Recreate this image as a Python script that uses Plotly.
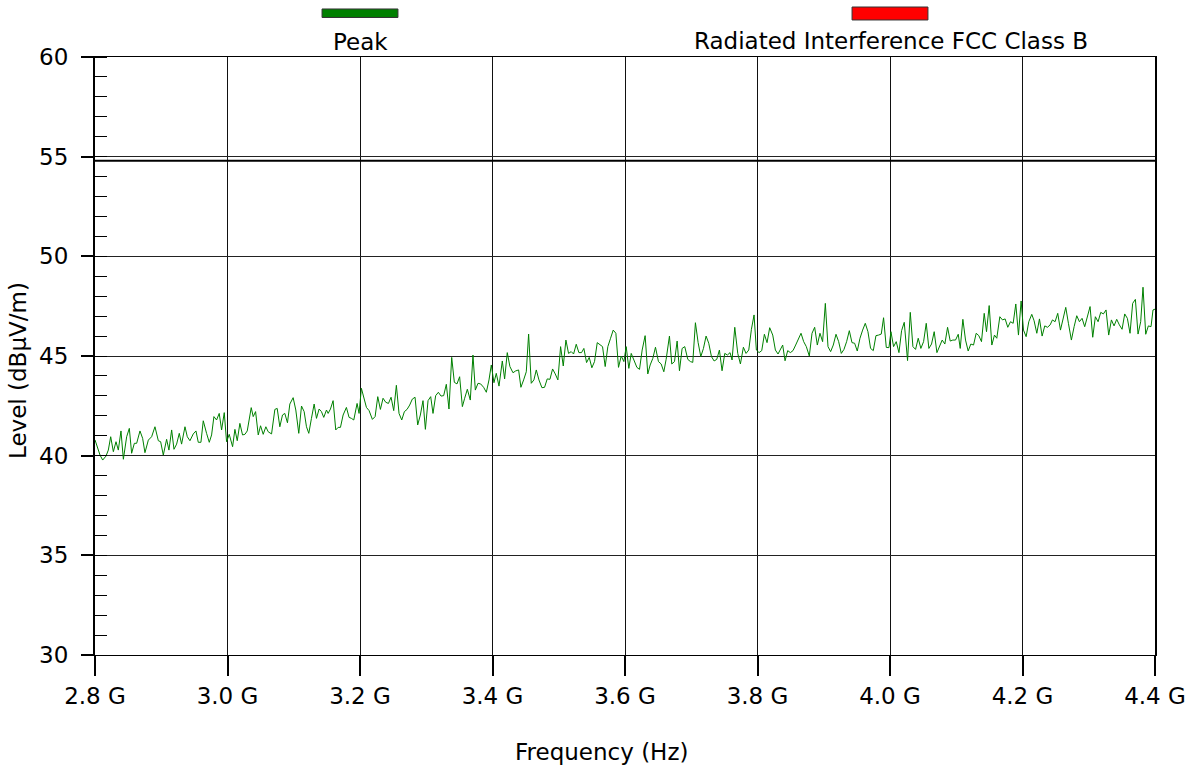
import plotly.graph_objects as go

# ---------------- data ----------------
# Peak trace: frequency in MHz and level in dBµV/m
freq_mhz = [
    # 2.80 - 3.08 GHz
    2800.0, 2807.6, 2811.6, 2816.6, 2820.1, 2823.7, 2827.7, 2831.7, 2835.2, 2839.2,
    2842.8, 2847.8, 2851.8, 2855.3, 2859.4, 2862.9, 2867.9, 2871.9, 2875.4, 2880.5,
    2885.5, 2890.5, 2895.6, 2899.1, 2903.1, 2908.1, 2911.6, 2915.7, 2919.2, 2923.2,
    2927.2, 2930.7, 2935.8, 2939.3, 2943.3, 2948.3, 2952.4, 2955.9, 2959.9, 2963.4,
    2968.4, 2972.5, 2976.0, 2979.5, 2983.5, 2987.5, 2991.1, 2995.1, 2998.6, 3002.6,
    3007.7, 3011.2, 3014.7, 3018.7, 3022.7, 3026.3, 3029.8, 3035.8, 3038.8, 3042.4,
    3046.4, 3049.9, 3053.9, 3057.9, 3061.4, 3066.5, 3071.5, 3075.0, 3079.0,
    # 3.08 - 3.35 GHz
    3083.0, 3086.5, 3090.5, 3094.1, 3099.1, 3103.1, 3107.6, 3111.7, 3115.7, 3119.2,
    3122.7, 3126.7, 3130.8, 3134.3, 3138.3, 3141.8, 3145.3, 3149.4, 3151.9, 3155.4,
    3159.4, 3163.4, 3167.0, 3170.5, 3174.5, 3179.5, 3183.5, 3187.1, 3190.6, 3195.6,
    3198.6, 3202.1, 3206.2, 3209.7, 3213.7, 3218.7, 3222.8, 3226.8, 3230.8, 3234.8,
    3238.8, 3242.9, 3246.9, 3250.9, 3254.9, 3258.9, 3263.0, 3267.0, 3271.0, 3275.0,
    3279.0, 3283.1, 3287.1, 3291.1, 3295.1, 3298.7, 3302.7, 3306.7, 3310.2, 3314.2,
    3318.3, 3322.3, 3326.3, 3330.3, 3334.3, 3338.4, 3342.4, 3346.4, 3350.4,
    # 3.35 - 3.61 GHz
    3354.5, 3358.0, 3362.0, 3366.5, 3370.5, 3374.1, 3378.1, 3382.1, 3386.6, 3390.7,
    3394.7, 3398.2, 3402.2, 3405.7, 3409.8, 3414.8, 3418.3, 3422.3, 3426.3, 3430.9,
    3434.9, 3439.4, 3442.9, 3447.0, 3451.0, 3454.5, 3458.5, 3462.5, 3466.1, 3470.1,
    3474.6, 3478.6, 3482.6, 3486.7, 3490.7, 3494.7, 3498.7, 3502.8, 3506.8, 3510.8,
    3514.8, 3518.8, 3522.4, 3526.4, 3530.4, 3534.4, 3537.9, 3542.0, 3546.0, 3550.0,
    3554.0, 3558.1, 3562.1, 3566.1, 3570.1, 3574.1, 3578.2, 3582.2, 3586.2, 3590.2,
    3594.3, 3598.3, 3601.8, 3605.8, 3609.4,
    # 3.61 - 3.88 GHz
    3617.9, 3621.9, 3625.9, 3630.4, 3634.4, 3638.0, 3642.0, 3646.0, 3650.5, 3654.6,
    3658.6, 3662.1, 3667.1, 3670.6, 3674.7, 3678.7, 3682.2, 3686.2, 3690.2, 3694.8,
    3698.8, 3702.3, 3706.3, 3710.4, 3714.4, 3718.4, 3722.4, 3726.4, 3730.5, 3734.5,
    3738.5, 3742.5, 3746.5, 3750.6, 3754.6, 3758.6, 3761.6, 3765.7, 3770.2, 3774.2,
    3778.7, 3782.7, 3786.8, 3790.8, 3794.8, 3798.3, 3802.4, 3806.4, 3810.4, 3814.4,
    3818.4, 3823.0, 3827.0, 3831.0, 3835.0, 3838.0, 3841.6, 3845.6, 3849.6, 3853.6,
    3857.6, 3861.7, 3865.7, 3869.7, 3873.7,
    # 3.88 - 4.14 GHz
    3878.2, 3882.3, 3886.3, 3890.3, 3894.3, 3898.3, 3902.4, 3906.4, 3910.4, 3914.4,
    3918.5, 3922.5, 3926.5, 3930.5, 3934.5, 3938.6, 3942.6, 3946.6, 3950.6, 3954.7,
    3958.7, 3962.7, 3966.7, 3970.7, 3974.8, 3978.8, 3982.8, 3986.8, 3990.3, 3994.4,
    3998.4, 4001.4, 4005.4, 4009.4, 4013.5, 4017.5, 4021.5, 4026.5, 4030.6, 4034.6,
    4038.6, 4042.6, 4046.6, 4050.7, 4054.7, 4058.7, 4062.7, 4066.7, 4070.8, 4074.8,
    4078.8, 4082.8, 4086.9, 4090.9, 4094.9, 4098.9, 4103.0, 4106.0, 4110.0, 4114.0,
    4118.0, 4122.0, 4126.1, 4130.1, 4134.1, 4138.1, 4142.2,
    # 4.14 - 4.40 GHz
    4145.7, 4149.7, 4153.7, 4157.7, 4161.2, 4165.8, 4169.8, 4173.8, 4177.8, 4181.9,
    4185.9, 4189.9, 4193.9, 4197.9, 4201.5, 4205.5, 4209.5, 4214.0, 4217.5, 4221.6,
    4225.6, 4229.6, 4233.6, 4237.7, 4241.7, 4245.2, 4249.2, 4253.2, 4257.3, 4261.3,
    4265.3, 4269.3, 4273.8, 4277.9, 4281.9, 4285.9, 4289.9, 4293.9, 4298.0, 4302.0,
    4306.0, 4310.0, 4314.1, 4318.1, 4322.1, 4326.1, 4330.1, 4334.2, 4338.2, 4342.2,
    4346.2, 4350.3, 4354.3, 4358.3, 4362.3, 4366.3, 4370.4, 4374.4, 4378.4, 4381.9,
    4386.0, 4390.0, 4394.0, 4397.0, 4400.0,
]

peak_dbuv = [
    # 2.80 - 3.08 GHz
    40.79, 40.03, 39.78, 39.98, 40.28, 40.95, 40.20, 40.70, 40.28, 41.24,
    39.82, 40.95, 41.37, 40.12, 40.62, 40.62, 41.24, 40.87, 40.15, 40.78,
    40.95, 41.45, 40.75, 40.70, 40.03, 40.82, 40.28, 41.29, 40.32, 40.58,
    41.12, 40.58, 41.45, 40.95, 40.75, 41.09, 41.24, 40.67, 40.67, 41.75,
    41.12, 40.67, 41.04, 41.96, 41.79, 42.12, 41.29, 42.16, 40.70, 41.07,
    40.45, 41.32, 40.75, 41.62, 41.04, 41.07, 41.24, 42.41, 41.96, 42.21,
    41.04, 41.50, 41.07, 41.45, 41.20, 41.09, 42.32, 42.37, 41.45,
    # 3.08 - 3.35 GHz
    42.04, 42.12, 41.65, 42.59, 42.91, 42.29, 41.12, 42.49, 42.21, 41.45,
    41.12, 41.87, 42.59, 41.87, 42.34, 42.21, 41.92, 42.29, 42.12, 42.34,
    42.76, 41.29, 41.42, 41.42, 42.04, 42.42, 41.92, 41.87, 41.79, 42.62,
    42.12, 43.38, 42.79, 42.42, 42.26, 41.82, 41.96, 42.96, 42.32, 42.88,
    42.68, 42.62, 42.93, 42.26, 43.53, 42.12, 41.79, 42.21, 42.32, 42.54,
    42.84, 42.93, 41.54, 42.04, 42.76, 41.32, 42.76, 42.96, 42.12, 43.01,
    43.18, 42.99, 43.01, 43.58, 42.34, 44.93, 43.68, 43.60, 43.96,
    # 3.35 - 3.61 GHz
    42.46, 42.88, 43.33, 42.79, 45.05, 43.29, 43.63, 43.60, 43.43, 43.18,
    43.80, 44.55, 43.66, 44.13, 43.49, 44.75, 43.85, 45.17, 44.47, 44.16,
    44.25, 44.30, 43.43, 43.80, 44.21, 46.10, 43.63, 43.80, 44.30, 43.80,
    43.41, 43.43, 43.85, 43.83, 44.35, 44.10, 43.80, 45.47, 44.50, 45.80,
    45.13, 45.22, 45.10, 45.59, 45.17, 45.17, 45.38, 44.67, 44.93, 44.41,
    44.72, 45.67, 45.55, 45.47, 44.47, 45.47, 45.89, 46.30, 46.14, 44.43,
    45.00, 44.72, 45.47, 44.38, 45.13,
    # 3.61 - 3.88 GHz
    44.43, 44.33, 45.30, 46.02, 44.10, 44.55, 44.88, 45.44, 44.72, 44.60,
    44.21, 44.83, 46.00, 44.60, 44.72, 45.75, 44.26, 45.38, 45.47, 44.83,
    44.72, 44.68, 46.67, 45.67, 44.97, 45.38, 46.00, 45.64, 44.97, 44.75,
    44.83, 45.30, 44.26, 45.13, 45.05, 45.17, 44.80, 46.44, 45.13, 44.60,
    45.44, 45.13, 45.30, 46.34, 47.06, 45.30, 45.17, 45.27, 46.09, 45.67,
    46.42, 46.05, 45.30, 45.10, 45.38, 45.55, 44.76, 45.27, 45.17, 45.27,
    45.55, 45.84, 46.14, 45.72, 45.47,
    # 3.88 - 4.14 GHz
    45.00, 46.14, 46.44, 45.55, 46.14, 45.72, 47.64, 45.47, 45.22, 45.55,
    46.09, 45.72, 45.13, 45.33, 45.72, 46.27, 45.67, 45.64, 45.25, 45.89,
    46.30, 46.64, 46.22, 45.38, 45.27, 46.02, 46.05, 46.10, 46.92, 45.43,
    45.42, 46.22, 45.47, 45.72, 45.17, 46.27, 46.69, 44.77, 47.19, 45.47,
    45.33, 45.89, 45.38, 45.72, 46.64, 45.38, 45.60, 46.22, 45.17, 45.47,
    45.80, 45.60, 46.44, 45.75, 45.80, 45.80, 46.09, 45.38, 46.84, 45.80,
    45.25, 45.60, 45.55, 46.14, 46.02, 45.72, 47.14,
    # 4.14 - 4.40 GHz
    46.22, 47.53, 45.55, 46.05, 45.89, 46.97, 46.81, 46.86, 46.44, 46.72,
    46.64, 47.61, 46.05, 47.76, 46.30, 45.97, 46.72, 47.09, 46.77, 46.14,
    46.86, 46.00, 46.51, 46.44, 46.56, 46.81, 46.72, 47.14, 46.30, 46.81,
    47.44, 46.64, 45.80, 46.47, 47.02, 46.72, 46.89, 46.47, 46.97, 47.48,
    45.94, 46.97, 46.72, 47.19, 47.11, 47.31, 46.05, 46.81, 46.51, 46.84,
    46.56, 46.34, 47.11, 46.89, 46.14, 47.64, 47.84, 46.10, 46.72, 48.45,
    46.09, 46.51, 46.47, 47.31, 47.35,
]

# Limit line (Radiated Interference FCC Class B)
limit_freq_mhz = [2800.0, 4400.0]
limit_dbuv = [54.8, 54.8]

x_tick_ghz = [2.8, 3.0, 3.2, 3.4, 3.6, 3.8, 4.0, 4.2, 4.4]
x_tick_text = ["2.8 G", "3.0 G", "3.2 G", "3.4 G", "3.6 G", "3.8 G", "4.0 G", "4.2 G", "4.4 G"]
y_ticks = [30, 35, 40, 45, 50, 55, 60]

legend_names = ["Peak", "Radiated Interference FCC Class B"]
legend_colors = ["#008000", "#ff0000"]

# ---------------- figure ----------------
FONT = "DejaVu Sans"
FS = 23
n = min(len(freq_mhz), len(peak_dbuv))

fig = go.Figure()
fig.add_trace(go.Scatter(
    x=[f / 1000.0 for f in freq_mhz[:n]], y=peak_dbuv[:n],
    mode="lines", line=dict(color="#008000", width=1),
    name=legend_names[0], showlegend=False, hoverinfo="x+y"))
fig.add_trace(go.Scatter(
    x=[f / 1000.0 for f in limit_freq_mhz], y=limit_dbuv,
    mode="lines", line=dict(color="#000000", width=2),
    name=legend_names[1], showlegend=False))

fig.update_layout(
    width=1194, height=772,
    margin=dict(l=95, r=39, t=57, b=117, autoexpand=False),
    paper_bgcolor="white", plot_bgcolor="white",
    font=dict(family=FONT, size=FS, color="black"),
    showlegend=False,
)

fig.update_xaxes(
    range=[2.8, 4.4], tickvals=x_tick_ghz, ticktext=x_tick_text,
    ticks="outside", ticklen=20, tickwidth=1.5, tickcolor="black",
    showgrid=True, gridcolor="#111111", gridwidth=1.4,
    showline=True, linecolor="black", linewidth=1, mirror=True,
    zeroline=False, automargin=False,
    tickfont=dict(family=FONT, size=FS, color="black"),
)
fig.update_yaxes(
    range=[30, 60], tickvals=y_ticks,
    ticks="outside", ticklen=12, tickwidth=1.5, tickcolor="black",
    minor=dict(ticks="inside", ticklen=12, dtick=1, tick0=30,
               tickwidth=1, tickcolor="black", showgrid=False),
    showgrid=True, gridcolor="#222222", gridwidth=1.4,
    showline=True, linecolor="black", linewidth=2, mirror=True,
    zeroline=False, ticklabelstandoff=8, automargin=False,
    tickfont=dict(family=FONT, size=FS, color="black"),
)

# axis titles
fig.add_annotation(text="Level (dBµV/m)", xref="paper", yref="paper",
                   x=-0.0726, y=0.475, textangle=-90, showarrow=False,
                   xanchor="center", yanchor="middle",
                   font=dict(family=FONT, size=FS, color="black"))
fig.add_annotation(text="Frequency (Hz)", xref="paper", yref="paper",
                   x=0.4783, y=-0.1622, showarrow=False,
                   xanchor="center", yanchor="middle",
                   font=dict(family=FONT, size=FS, color="black"))

# custom legend at top
legend_boxes = [(0.2142, 0.2858, 1.0661, 1.0803), (0.7142, 0.7858, 1.0619, 1.0836)]
legend_text_pos = [(0.25, 1.0251), (0.7509, 1.0268)]
for name, col, (x0, x1, y0, y1), (tx, ty) in zip(legend_names, legend_colors, legend_boxes, legend_text_pos):
    fig.add_shape(type="rect", xref="paper", yref="paper", x0=x0, x1=x1, y0=y0, y1=y1,
                  fillcolor=col, line=dict(color="#333333", width=1))
    fig.add_annotation(text=name, xref="paper", yref="paper", x=tx, y=ty,
                       showarrow=False, xanchor="center", yanchor="middle",
                       font=dict(family=FONT, size=FS, color="black"))

fig.write_html("out.html")
